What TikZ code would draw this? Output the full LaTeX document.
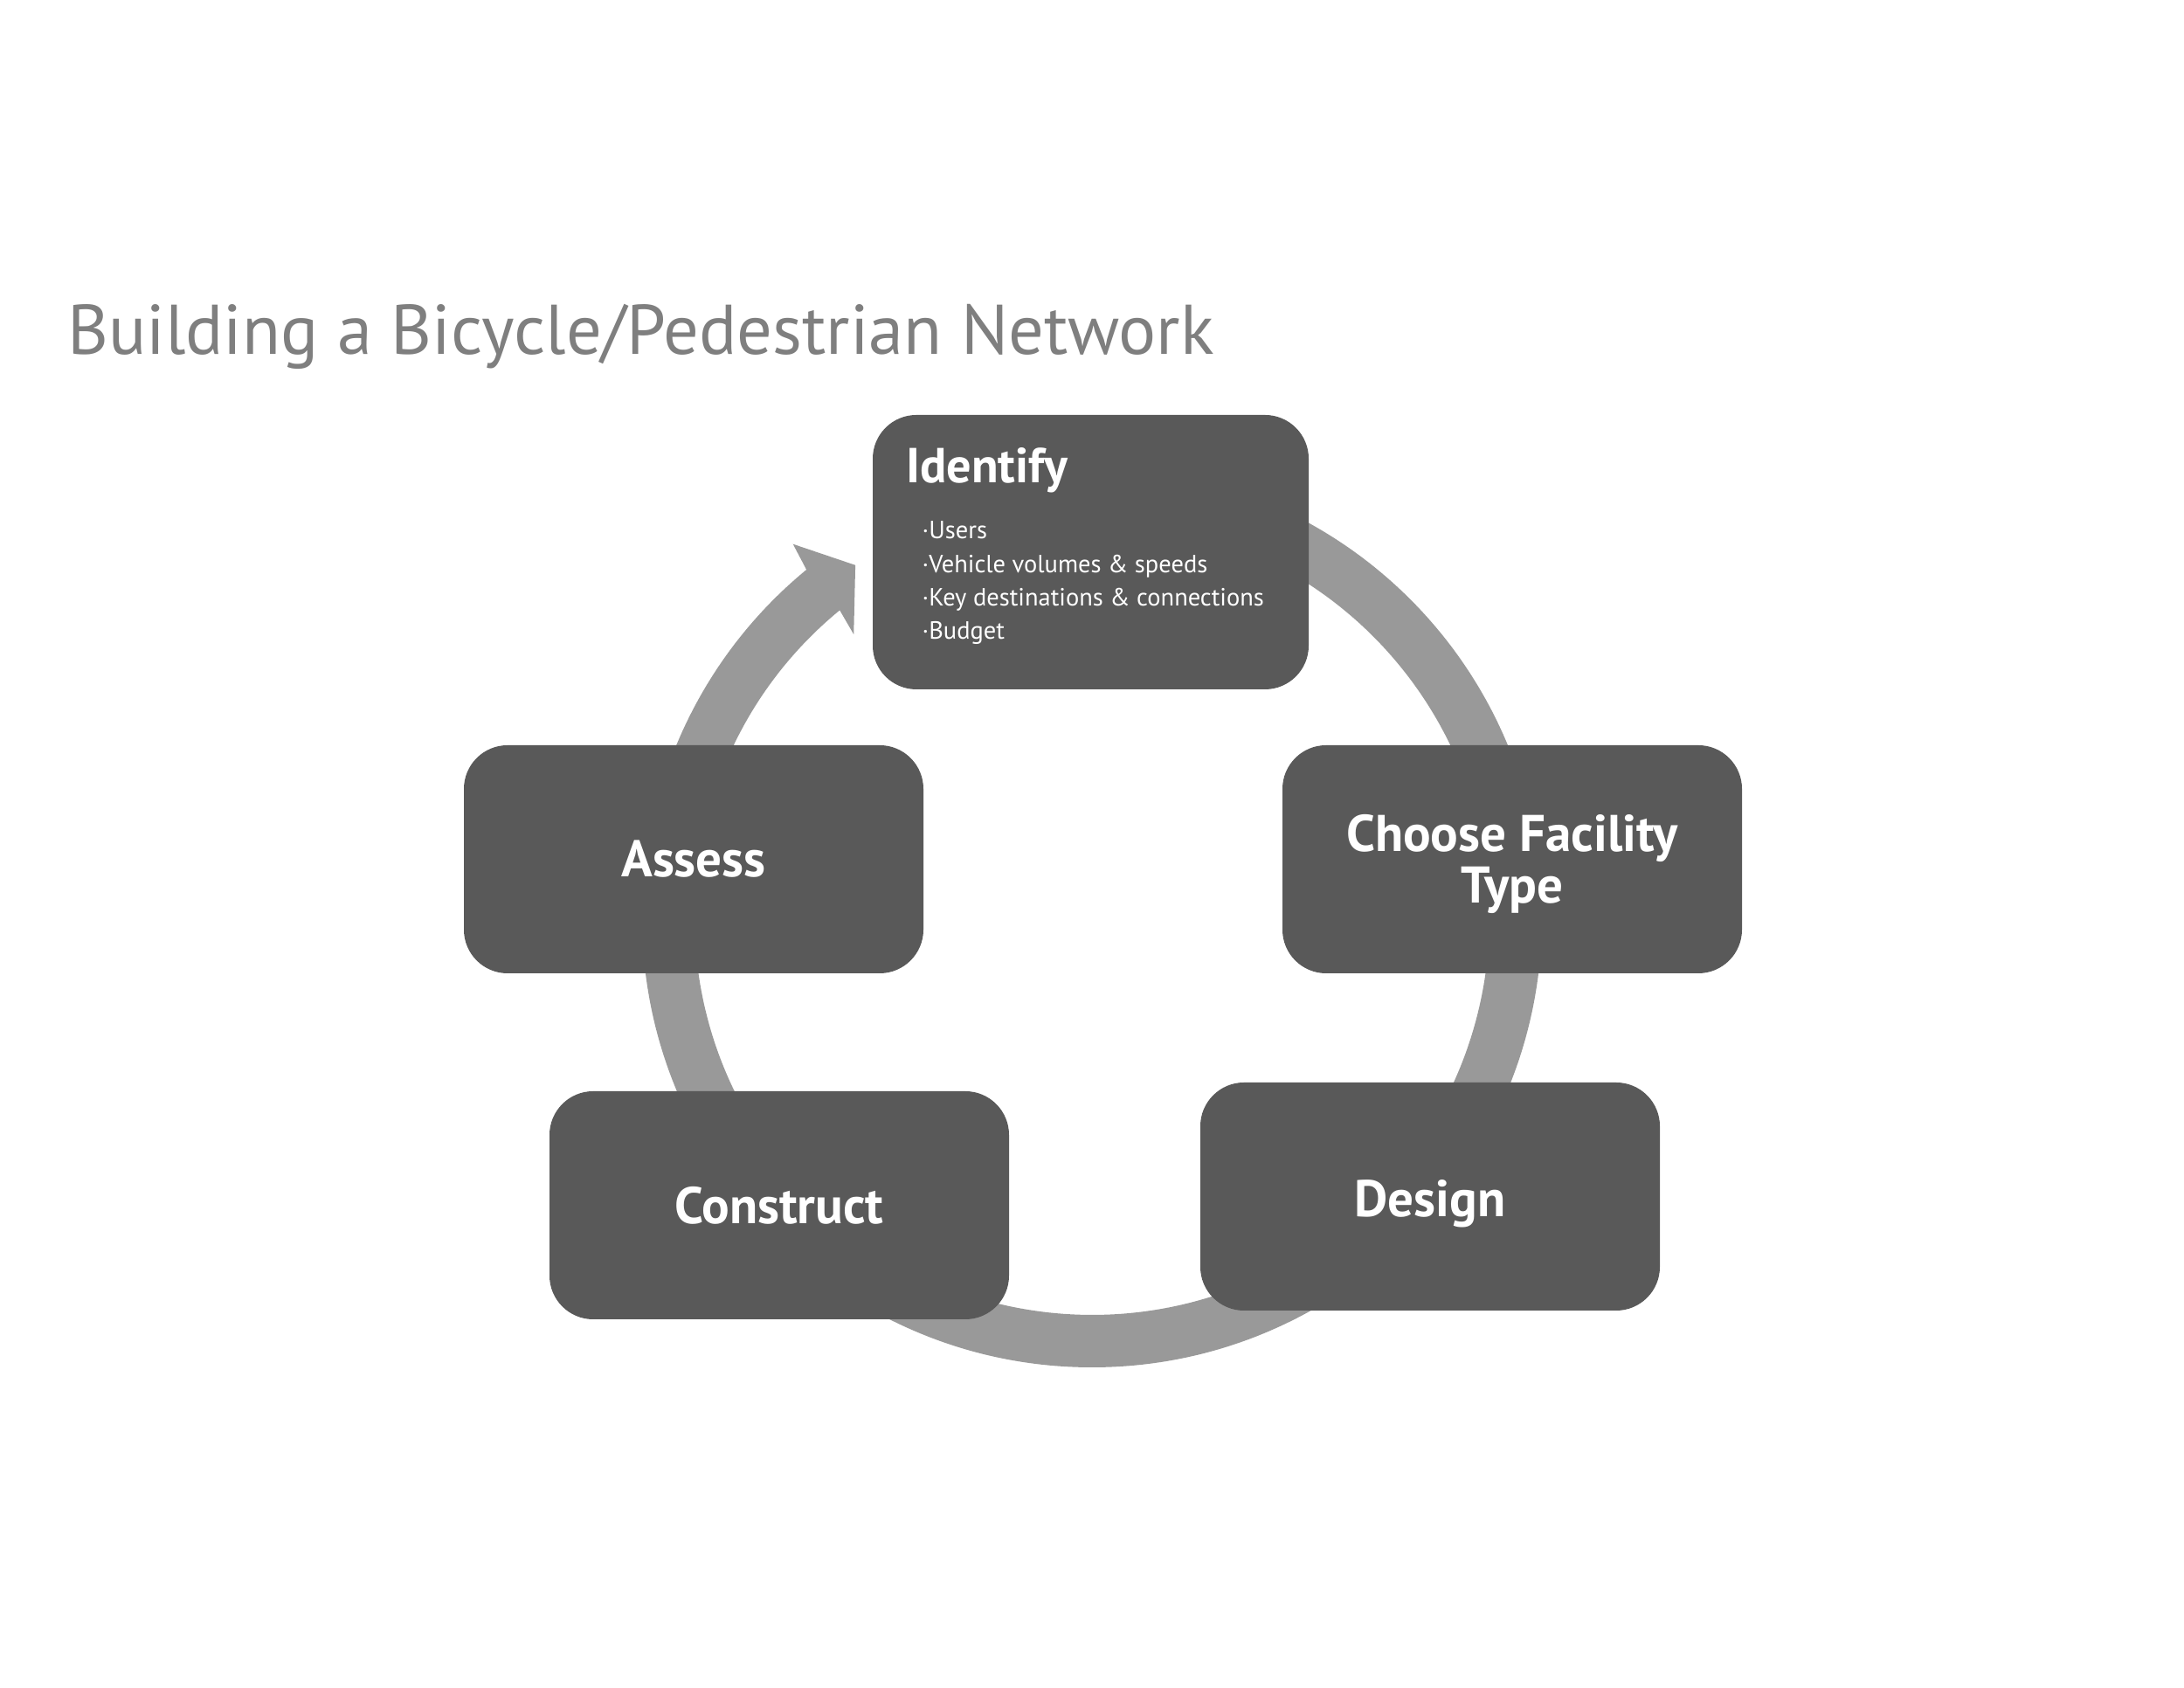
\documentclass[tikz,border=0pt]{standalone}
\usepackage{fontspec}
\setmainfont{PT Sans}
\definecolor{boxgray}{HTML}{595959}
\definecolor{ringgray}{HTML}{999999}
\definecolor{titlegray}{HTML}{7F7F7F}
\tikzset{
	stage/.style={rectangle, rounded corners=0.5cm, fill=boxgray, text=white, minimum width=5.26cm, minimum height=2.61cm, align=center, inner sep=0pt, font=\bfseries\fontsize{16.8}{16.8}\selectfont},
	listitem/.style={anchor=base west, inner sep=0pt, text=white, font=\fontsize{8.1}{10}\selectfont}
}
\begin{document}
\begin{tikzpicture}
	\useasboundingbox (0,0) rectangle (25,19.32);
	
	\node[anchor=base west, inner sep=0pt, text=titlegray, font=\fontsize{22.9}{28}\selectfont] (title) at (0.765,15.26) {Building a Bicycle/Pedestrian Network};
	
	% cycle arrow
	\coordinate (ring) at (12.5,8.82);
	\begin{scope}[shift={(ring)}]
		\fill[ringgray] (90:5.15) arc[start angle=90, end angle=-230.6, radius=5.15] -- (-231.3:5.475) -- (-236.1:4.857) -- (-229.9:4.235) -- (-230.6:4.55) arc[start angle=-230.6, end angle=90, radius=4.55] -- cycle;
	\end{scope}
	
	\node[stage, minimum width=4.99cm, minimum height=3.14cm] (identify) at (12.485,13.00) {};
	\node[anchor=base west, inner sep=0pt, text=white, font=\bfseries\fontsize{16}{16.8}\selectfont] (identifyhead) at (10.367,13.79) {Identify};
	\foreach \entry [count=\i] in {Users, Vehicle volumes \& speeds, Key destinations \& connections, Budget}
		\node[listitem] (item\i) at (10.55,13.15-0.383*\i+0.383) {·\entry};
	
	\node[stage] (choose) at (17.31,9.485) {\rule{0pt}{0.54cm}Choose Facility\\Type};
	\node[stage] (assess) at (7.94,9.485) {Assess};
	\node[stage] (design) at (16.37,5.625) {\rule{0pt}{0.58cm}Design};
	\node[stage] (construct) at (8.92,5.525) {Construct};
	
\end{tikzpicture}
\end{document}
